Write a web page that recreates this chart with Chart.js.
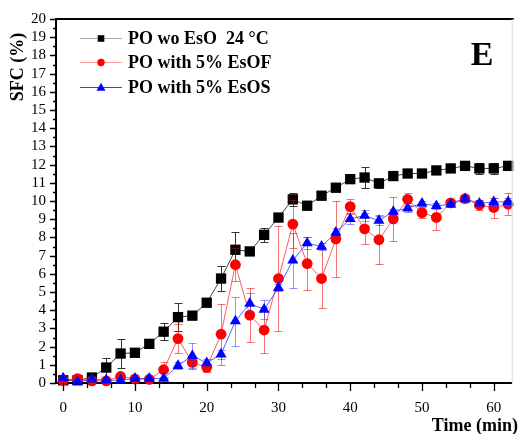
<!DOCTYPE html>
<html>
<head>
<meta charset="utf-8">
<script src="https://cdn.jsdelivr.net/npm/chart.js@4.4.1/dist/chart.umd.min.js"></script>
<style>
  html, body { margin: 0; padding: 0; background: #fff; }
  #wrap { width: 519px; height: 434px; position: relative; }
</style>
</head>
<body>
<div id="wrap"><canvas id="c" width="519" height="434"></canvas></div>
<script>
// Sampling times (min)
const times = [0, 2, 4, 6, 8, 10, 12, 14, 16, 18, 20, 22, 24, 26, 28, 30,
               32, 34, 36, 38, 40, 42, 44, 46, 48, 50, 52, 54, 56, 58, 60, 62];

// Solid fat content (%) per sample
const sfcPlain = [0.15, 0.15, 0.30, 0.85, 1.62, 1.66, 2.15, 2.82, 3.62, 3.70, 4.41, 5.74, 7.32, 7.23, 8.14, 9.09,
                  10.09, 9.74, 10.29, 10.73, 11.20, 11.29, 10.97, 11.37, 11.51, 11.51, 11.68, 11.79, 11.93, 11.79, 11.79, 11.93];
const sfcEsOF  = [0.15, 0.24, 0.12, 0.12, 0.36, 0.22, 0.20, 0.73, 2.44, 1.13, 0.86, 2.68, 6.50, 3.73, 2.91, 5.74,
                  8.73, 6.56, 5.74, 7.92, 9.69, 8.47, 7.87, 9.02, 10.09, 9.36, 9.10, 9.90, 10.13, 9.78, 9.64, 9.82];
const sfcEsOS  = [0.27, 0.08, 0.20, 0.15, 0.15, 0.25, 0.25, 0.25, 0.95, 1.50, 1.10, 1.58, 3.40, 4.37, 4.04, 5.23,
                  6.74, 7.69, 7.50, 8.27, 9.02, 9.20, 8.92, 9.42, 9.60, 9.87, 9.73, 9.82, 10.11, 9.87, 9.95, 9.95];

// Standard deviations
const errPlain = [0.05, 0.05, 0.10, 0.55, 0.78, 0.10, 0.10, 0.45, 0.75, 0.10, 0.15, 0.70, 0.95, 0.15, 0.40, 0.20,
                  0.35, 0.10, 0.10, 0.20, 0.15, 0.60, 0.25, 0.15, 0.15, 0.10, 0.15, 0.10, 0.10, 0.30, 0.30, 0.15];
const errEsOF  = [0.05, 0.05, 0.05, 0.05, 0.10, 0.10, 0.10, 0.40, 0.80, 0.35, 0.25, 1.67, 0.90, 1.47, 1.27, 2.90,
                  1.30, 1.45, 1.60, 2.10, 0.40, 0.85, 1.35, 1.20, 0.35, 0.30, 0.70, 0.15, 0.20, 0.30, 0.55, 0.60];
const errEsOS  = [0.05, 0.05, 0.05, 0.05, 0.05, 0.05, 0.05, 0.05, 0.20, 0.70, 0.20, 0.25, 1.35, 0.55, 0.50, 0.20,
                  1.50, 0.35, 0.20, 0.25, 0.30, 0.30, 0.25, 0.15, 0.20, 0.15, 0.15, 0.15, 0.15, 0.20, 0.20, 0.20];

const seriesNames = ['PO wo EsO  24 \u00B0C', 'PO with 5% EsOF', 'PO with 5% EsOS'];
const xTickLabels = [0, 10, 20, 30, 40, 50, 60];

const SERIF = '"Liberation Serif", "Times New Roman", serif';

const pts = vals => times.map((t, i) => ({ x: t, y: vals[i] }));

const styles = [
  { marker: '#000000', line: '#444444', legendLine: '#aaaaaa', bar: '#333333', shape: 'rect', r: 7.3, legendR: 3.3 },
  { marker: '#ff0000', line: 'rgba(255,40,40,0.75)', legendLine: '#ff9a9a', bar: 'rgba(235,0,0,0.55)', shape: 'circle', r: 5.4, legendR: 3.7 },
  { marker: '#0000ff', line: 'rgba(40,40,255,0.75)', legendLine: '#3a3aff', bar: 'rgba(40,40,255,0.5)', shape: 'triangle', r: 6.4, legendR: 4.3 }
];
const errorSets = [errPlain, errEsOF, errEsOS];

// Vertical error bars, drawn just under each series' own markers
const errorBars = {
  id: 'errorBars',
  beforeDatasetDraw(chart, args) {
    const i = args.index;
    const errs = errorSets[i];
    const vals = chart.data.datasets[i].data;
    const ys = chart.scales.y;
    const ctx = chart.ctx;
    ctx.save();
    ctx.strokeStyle = styles[i].bar;
    ctx.lineWidth = 1;
    args.meta.data.forEach((p, k) => {
      const v = vals[k].y, e = errs[k];
      const top = Math.round(ys.getPixelForValue(v + e)) + 0.5;
      const bot = Math.round(ys.getPixelForValue(v - e)) + 0.5;
      const x = Math.round(p.x) + 0.5;
      ctx.beginPath();
      ctx.moveTo(x, top); ctx.lineTo(x, bot);
      ctx.moveTo(x - 4, top); ctx.lineTo(x + 4, top);
      ctx.moveTo(x - 4, bot); ctx.lineTo(x + 4, bot);
      ctx.stroke();
    });
    ctx.restore();
  }
};

function drawMarker(ctx, shape, x, y, r, color) {
  ctx.fillStyle = color;
  ctx.beginPath();
  if (shape === 'rect') {
    ctx.rect(x - r, y - r, 2 * r, 2 * r);
  } else if (shape === 'circle') {
    ctx.arc(x, y, r, 0, Math.PI * 2);
  } else {
    ctx.moveTo(x, y - r * 1.1);
    ctx.lineTo(x + r * 1.05, y + r * 0.75);
    ctx.lineTo(x - r * 1.05, y + r * 0.75);
    ctx.closePath();
  }
  ctx.fill();
}

// Axis ticks (major + minor), frame top, legend, titles and panel letter
const decorations = {
  id: 'decorations',
  afterDraw(chart) {
    const ctx = chart.ctx;
    const a = chart.chartArea;
    const xs = chart.scales.x, ys = chart.scales.y;
    ctx.save();
    ctx.strokeStyle = '#000';
    ctx.lineWidth = 1.3;

    // y ticks: majors on integers, minors on halves
    ctx.beginPath();
    for (let v = 0; v <= 20; v += 0.5) {
      const y = Math.round(ys.getPixelForValue(v)) + 0.5;
      const len = Number.isInteger(v) ? 6 : 3;
      ctx.moveTo(a.left, y); ctx.lineTo(a.left - len, y);
    }
    // x ticks: majors every 10 min, two minors between
    for (let k = 0; k * 10 / 3 <= xs.max; k++) {
      const v = k * 10 / 3;
      const x = Math.round(xs.getPixelForValue(v)) + 0.5;
      const len = (k % 3 === 0) ? 8 : 5;
      ctx.moveTo(x, a.bottom); ctx.lineTo(x, a.bottom + len);
    }
    ctx.stroke();

    // top frame line
    ctx.lineWidth = 2;
    ctx.beginPath();
    ctx.moveTo(a.left - 1, a.top); ctx.lineTo(a.right + 2, a.top);
    ctx.stroke();
    // faint right edge
    ctx.strokeStyle = '#d8d8d8';
    ctx.lineWidth = 1;
    ctx.beginPath();
    ctx.moveTo(a.right + 0.5, a.top); ctx.lineTo(a.right + 0.5, a.bottom);
    ctx.stroke();

    // legend
    const rows = [38, 62, 87];
    ctx.font = 'bold 18px ' + SERIF;
    ctx.textBaseline = 'middle';
    ctx.textAlign = 'left';
    rows.forEach((y, i) => {
      const s = styles[i];
      ctx.strokeStyle = s.legendLine;
      ctx.lineWidth = 1;
      ctx.beginPath();
      ctx.moveTo(80, y + 0.5); ctx.lineTo(122, y + 0.5);
      ctx.stroke();
      drawMarker(ctx, s.shape, 101, y + 0.5, s.legendR, s.marker);
      ctx.fillStyle = '#000';
      ctx.fillText(seriesNames[i], 128, y + 1);
    });

    // panel letter
    ctx.font = 'bold 34px ' + SERIF;
    ctx.textAlign = 'center';
    ctx.textBaseline = 'alphabetic';
    ctx.fillText('E', 482, 65);

    // x title
    ctx.font = 'bold 18px ' + SERIF;
    ctx.textAlign = 'right';
    ctx.fillText('Time (min)', 518, 431);

    // y title
    ctx.translate(18.5, 67);
    ctx.rotate(-Math.PI / 2);
    ctx.textAlign = 'center';
    ctx.textBaseline = 'middle';
    ctx.font = 'bold 18px ' + SERIF;
    ctx.fillText('SFC (%)', 0, 0);
    ctx.restore();
  }
};

const datasets = [sfcPlain, sfcEsOF, sfcEsOS].map((vals, i) => ({
  label: seriesNames[i],
  data: pts(vals),
  borderColor: styles[i].line,
  borderWidth: 1,
  backgroundColor: styles[i].marker,
  pointBackgroundColor: styles[i].marker,
  pointBorderColor: styles[i].marker,
  pointBorderWidth: 0,
  pointStyle: styles[i].shape,
  pointRadius: styles[i].r,
  pointHoverRadius: styles[i].r,
  tension: 0,
  clip: false,
  order: 2 - i
}));

new Chart(document.getElementById('c'), {
  type: 'line',
  data: { datasets },
  plugins: [errorBars, decorations],
  options: {
    responsive: false,
    animation: false,
    events: [],
    layout: { padding: { left: 0, right: 2, top: 19, bottom: 0 } },
    plugins: { legend: { display: false }, tooltip: { enabled: false } },
    scales: {
      x: {
        type: 'linear',
        min: -1,
        max: 62.5,
        afterFit(s) { s.height = 51; },
        afterBuildTicks(s) { s.ticks = xTickLabels.map(v => ({ value: v })); },
        grid: { display: false, drawTicks: false },
        border: { display: true, color: '#000', width: 2 },
        ticks: { color: '#000', font: { family: SERIF, size: 15 }, padding: 16, maxRotation: 0, autoSkip: false }
      },
      y: {
        type: 'linear',
        min: 0,
        max: 20,
        afterFit(s) { s.width = 56; },
        grid: { display: false, drawTicks: false },
        border: { display: true, color: '#000', width: 2 },
        ticks: { stepSize: 1, color: '#000', font: { family: SERIF, size: 15 }, padding: 10, autoSkip: false }
      }
    }
  }
});
</script>
</body>
</html>
